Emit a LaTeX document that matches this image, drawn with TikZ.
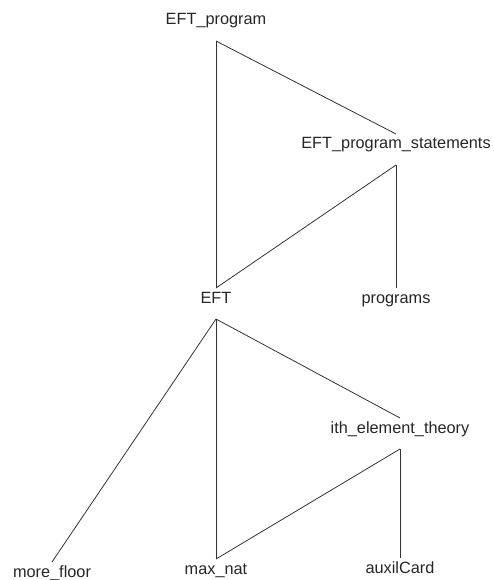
\documentclass[tikz,border=0pt]{standalone}
\usepackage{fontspec}
\setmainfont{Liberation Sans}
\begin{document}
\begin{tikzpicture}[x=1pt,y=-1pt,
  lbl/.style={anchor=base,inner sep=0pt,font=\fontsize{16.3}{19}\selectfont,text=black!85},
  conn/.style={line width=0.8pt,draw=black!80}]
\useasboundingbox (0,0) rectangle (493,580);
\node[lbl] (ep) at (216,25) {EFT\_program};
\node[lbl] (eps) at (396,149) {EFT\_program\_statements};
\node[lbl] (eft) at (216,303) {EFT};
\node[lbl] (prog) at (396,303) {programs};
\node[lbl] (ith) at (400,433) {ith\_element\_theory};
\node[lbl] (mf) at (52,577) {more\_floor};
\node[lbl] (mn) at (216,574) {max\_nat};
\node[lbl] (ac) at (400,573) {auxilCard};
\newcommand{\tconn}[2]{\draw[conn] ([yshift=-16pt]#1.base) -- ([yshift=15pt]#2.base);}
\tconn{ep}{eft}
\tconn{ep}{eps}
\tconn{eps}{eft}
\tconn{eps}{prog}
\tconn{eft}{mf}
\tconn{eft}{mn}
\tconn{eft}{ith}
\tconn{ith}{mn}
\tconn{ith}{ac}
\end{tikzpicture}
\end{document}
